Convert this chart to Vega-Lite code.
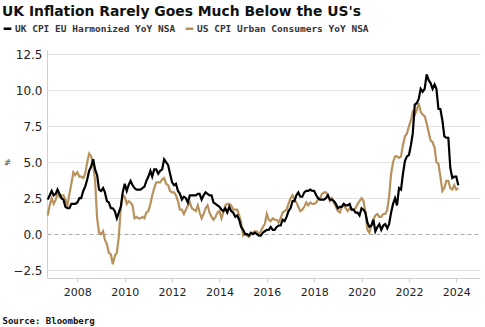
{
  "$schema": "https://vega.github.io/schema/vega-lite/v6.json",
  "width": 433,
  "height": 228,
  "autosize": {"type": "none"},
  "padding": {"left": 47, "top": 50, "right": 5, "bottom": 49},
  "background": "white",
  "title": {
    "text": "UK Inflation Rarely Goes Much Below the US's",
    "anchor": "start",
    "frame": "group",
    "dx": -45,
    "offset": 4,
    "font": "DejaVu Sans",
    "fontSize": 13.9,
    "fontWeight": "bold",
    "color": "#111111"
  },
  "config": {
    "view": {"stroke": null},
    "axis": {"domainColor": "#cfcfcf", "gridColor": "#e3e3e3", "tickColor": "#cfcfcf", "labelColor": "#222222", "labelFont": "DejaVu Sans"}
  },
  "data": {"values": [
      {"d":"2006-10","uk":2.4,"us":1.3},{"d":"2006-11","uk":2.7,"us":2.0},{"d":"2006-12","uk":3.0,"us":2.5},
      {"d":"2007-01","uk":2.7,"us":2.1},{"d":"2007-02","uk":2.8,"us":2.4},{"d":"2007-03","uk":3.1,"us":2.8},{"d":"2007-04","uk":2.8,"us":2.6},{"d":"2007-05","uk":2.5,"us":2.7},{"d":"2007-06","uk":2.4,"us":2.7},{"d":"2007-07","uk":1.9,"us":2.4},{"d":"2007-08","uk":1.8,"us":2.0},{"d":"2007-09","uk":1.8,"us":2.8},{"d":"2007-10","uk":2.1,"us":3.5},{"d":"2007-11","uk":2.1,"us":4.3},{"d":"2007-12","uk":2.1,"us":4.1},
      {"d":"2008-01","uk":2.2,"us":4.3},{"d":"2008-02","uk":2.5,"us":4.0},{"d":"2008-03","uk":2.5,"us":4.0},{"d":"2008-04","uk":3.0,"us":3.9},{"d":"2008-05","uk":3.3,"us":4.2},{"d":"2008-06","uk":3.8,"us":5.0},{"d":"2008-07","uk":4.4,"us":5.6},{"d":"2008-08","uk":4.7,"us":5.4},{"d":"2008-09","uk":5.2,"us":4.9},{"d":"2008-10","uk":4.5,"us":3.7},{"d":"2008-11","uk":4.1,"us":1.1},{"d":"2008-12","uk":3.1,"us":0.1},
      {"d":"2009-01","uk":3.0,"us":0.0},{"d":"2009-02","uk":3.2,"us":0.2},{"d":"2009-03","uk":2.9,"us":-0.4},{"d":"2009-04","uk":2.3,"us":-0.7},{"d":"2009-05","uk":2.2,"us":-1.3},{"d":"2009-06","uk":1.8,"us":-1.4},{"d":"2009-07","uk":1.8,"us":-2.1},{"d":"2009-08","uk":1.6,"us":-1.5},{"d":"2009-09","uk":1.1,"us":-1.3},{"d":"2009-10","uk":1.5,"us":-0.2},{"d":"2009-11","uk":1.9,"us":1.8},{"d":"2009-12","uk":2.9,"us":2.7},
      {"d":"2010-01","uk":3.5,"us":2.6},{"d":"2010-02","uk":3.0,"us":2.1},{"d":"2010-03","uk":3.4,"us":2.3},{"d":"2010-04","uk":3.7,"us":2.2},{"d":"2010-05","uk":3.4,"us":2.0},{"d":"2010-06","uk":3.2,"us":1.1},{"d":"2010-07","uk":3.1,"us":1.2},{"d":"2010-08","uk":3.1,"us":1.1},{"d":"2010-09","uk":3.1,"us":1.1},{"d":"2010-10","uk":3.2,"us":1.2},{"d":"2010-11","uk":3.3,"us":1.1},{"d":"2010-12","uk":3.7,"us":1.5},
      {"d":"2011-01","uk":4.0,"us":1.6},{"d":"2011-02","uk":4.4,"us":2.1},{"d":"2011-03","uk":4.0,"us":2.7},{"d":"2011-04","uk":4.5,"us":3.2},{"d":"2011-05","uk":4.5,"us":3.6},{"d":"2011-06","uk":4.2,"us":3.6},{"d":"2011-07","uk":4.4,"us":3.6},{"d":"2011-08","uk":4.5,"us":3.8},{"d":"2011-09","uk":5.2,"us":3.9},{"d":"2011-10","uk":5.0,"us":3.5},{"d":"2011-11","uk":4.8,"us":3.4},{"d":"2011-12","uk":4.2,"us":3.0},
      {"d":"2012-01","uk":3.6,"us":2.9},{"d":"2012-02","uk":3.4,"us":2.9},{"d":"2012-03","uk":3.5,"us":2.7},{"d":"2012-04","uk":3.0,"us":2.3},{"d":"2012-05","uk":2.8,"us":1.7},{"d":"2012-06","uk":2.4,"us":1.7},{"d":"2012-07","uk":2.6,"us":1.4},{"d":"2012-08","uk":2.5,"us":1.7},{"d":"2012-09","uk":2.2,"us":2.0},{"d":"2012-10","uk":2.7,"us":2.2},{"d":"2012-11","uk":2.7,"us":1.8},{"d":"2012-12","uk":2.7,"us":1.7},
      {"d":"2013-01","uk":2.7,"us":1.6},{"d":"2013-02","uk":2.8,"us":2.0},{"d":"2013-03","uk":2.8,"us":1.5},{"d":"2013-04","uk":2.4,"us":1.1},{"d":"2013-05","uk":2.7,"us":1.4},{"d":"2013-06","uk":2.9,"us":1.8},{"d":"2013-07","uk":2.8,"us":2.0},{"d":"2013-08","uk":2.7,"us":1.5},{"d":"2013-09","uk":2.7,"us":1.2},{"d":"2013-10","uk":2.2,"us":1.0},{"d":"2013-11","uk":2.1,"us":1.2},{"d":"2013-12","uk":2.0,"us":1.5},
      {"d":"2014-01","uk":1.9,"us":1.6},{"d":"2014-02","uk":1.7,"us":1.1},{"d":"2014-03","uk":1.6,"us":1.5},{"d":"2014-04","uk":1.8,"us":2.0},{"d":"2014-05","uk":1.5,"us":2.1},{"d":"2014-06","uk":1.9,"us":2.1},{"d":"2014-07","uk":1.6,"us":2.0},{"d":"2014-08","uk":1.5,"us":1.7},{"d":"2014-09","uk":1.2,"us":1.7},{"d":"2014-10","uk":1.3,"us":1.7},{"d":"2014-11","uk":1.0,"us":1.3},{"d":"2014-12","uk":0.5,"us":0.8},
      {"d":"2015-01","uk":0.3,"us":-0.1},{"d":"2015-02","uk":0.0,"us":0.0},{"d":"2015-03","uk":0.0,"us":-0.1},{"d":"2015-04","uk":-0.1,"us":-0.2},{"d":"2015-05","uk":0.1,"us":0.0},{"d":"2015-06","uk":0.0,"us":0.1},{"d":"2015-07","uk":0.1,"us":0.2},{"d":"2015-08","uk":0.0,"us":0.2},{"d":"2015-09","uk":-0.1,"us":0.0},{"d":"2015-10","uk":-0.1,"us":0.2},{"d":"2015-11","uk":0.1,"us":0.5},{"d":"2015-12","uk":0.2,"us":0.7},
      {"d":"2016-01","uk":0.3,"us":1.4},{"d":"2016-02","uk":0.3,"us":1.0},{"d":"2016-03","uk":0.5,"us":0.9},{"d":"2016-04","uk":0.3,"us":1.1},{"d":"2016-05","uk":0.3,"us":1.0},{"d":"2016-06","uk":0.5,"us":1.0},{"d":"2016-07","uk":0.6,"us":0.8},{"d":"2016-08","uk":0.6,"us":1.1},{"d":"2016-09","uk":1.0,"us":1.5},{"d":"2016-10","uk":0.9,"us":1.6},{"d":"2016-11","uk":1.2,"us":1.7},{"d":"2016-12","uk":1.6,"us":2.1},
      {"d":"2017-01","uk":1.8,"us":2.5},{"d":"2017-02","uk":2.3,"us":2.7},{"d":"2017-03","uk":2.3,"us":2.4},{"d":"2017-04","uk":2.7,"us":2.2},{"d":"2017-05","uk":2.9,"us":1.9},{"d":"2017-06","uk":2.6,"us":1.6},{"d":"2017-07","uk":2.6,"us":1.7},{"d":"2017-08","uk":2.9,"us":1.9},{"d":"2017-09","uk":3.0,"us":2.2},{"d":"2017-10","uk":3.0,"us":2.0},{"d":"2017-11","uk":3.1,"us":2.2},{"d":"2017-12","uk":3.0,"us":2.1},
      {"d":"2018-01","uk":3.0,"us":2.1},{"d":"2018-02","uk":2.7,"us":2.2},{"d":"2018-03","uk":2.5,"us":2.4},{"d":"2018-04","uk":2.4,"us":2.5},{"d":"2018-05","uk":2.4,"us":2.8},{"d":"2018-06","uk":2.4,"us":2.9},{"d":"2018-07","uk":2.5,"us":2.9},{"d":"2018-08","uk":2.7,"us":2.7},{"d":"2018-09","uk":2.4,"us":2.3},{"d":"2018-10","uk":2.4,"us":2.5},{"d":"2018-11","uk":2.3,"us":2.2},{"d":"2018-12","uk":2.1,"us":1.9},
      {"d":"2019-01","uk":1.8,"us":1.6},{"d":"2019-02","uk":1.9,"us":1.5},{"d":"2019-03","uk":1.9,"us":1.9},{"d":"2019-04","uk":2.1,"us":2.0},{"d":"2019-05","uk":2.0,"us":1.8},{"d":"2019-06","uk":2.0,"us":1.6},{"d":"2019-07","uk":2.1,"us":1.8},{"d":"2019-08","uk":1.7,"us":1.7},{"d":"2019-09","uk":1.7,"us":1.7},{"d":"2019-10","uk":1.5,"us":1.8},{"d":"2019-11","uk":1.5,"us":2.1},{"d":"2019-12","uk":1.3,"us":2.3},
      {"d":"2020-01","uk":1.8,"us":2.5},{"d":"2020-02","uk":1.7,"us":2.3},{"d":"2020-03","uk":1.5,"us":1.5},{"d":"2020-04","uk":0.8,"us":0.3},{"d":"2020-05","uk":0.5,"us":0.1},{"d":"2020-06","uk":0.6,"us":0.6},{"d":"2020-07","uk":1.0,"us":1.0},{"d":"2020-08","uk":0.2,"us":1.3},{"d":"2020-09","uk":0.5,"us":1.4},{"d":"2020-10","uk":0.7,"us":1.2},{"d":"2020-11","uk":0.3,"us":1.2},{"d":"2020-12","uk":0.6,"us":1.4},
      {"d":"2021-01","uk":0.7,"us":1.4},{"d":"2021-02","uk":0.4,"us":1.7},{"d":"2021-03","uk":0.7,"us":2.6},{"d":"2021-04","uk":1.5,"us":4.2},{"d":"2021-05","uk":2.1,"us":5.0},{"d":"2021-06","uk":2.5,"us":5.4},{"d":"2021-07","uk":2.0,"us":5.4},{"d":"2021-08","uk":3.2,"us":5.3},{"d":"2021-09","uk":3.1,"us":5.4},{"d":"2021-10","uk":4.2,"us":6.2},{"d":"2021-11","uk":5.1,"us":6.8},{"d":"2021-12","uk":5.4,"us":7.0},
      {"d":"2022-01","uk":5.5,"us":7.5},{"d":"2022-02","uk":6.2,"us":7.9},{"d":"2022-03","uk":7.0,"us":8.5},{"d":"2022-04","uk":9.0,"us":8.3},{"d":"2022-05","uk":9.1,"us":8.6},{"d":"2022-06","uk":9.4,"us":9.1},{"d":"2022-07","uk":10.1,"us":8.5},{"d":"2022-08","uk":9.9,"us":8.3},{"d":"2022-09","uk":10.1,"us":8.2},{"d":"2022-10","uk":11.1,"us":7.7},{"d":"2022-11","uk":10.7,"us":7.1},{"d":"2022-12","uk":10.5,"us":6.5},
      {"d":"2023-01","uk":10.1,"us":6.4},{"d":"2023-02","uk":10.4,"us":6.0},{"d":"2023-03","uk":10.1,"us":5.0},{"d":"2023-04","uk":8.7,"us":4.9},{"d":"2023-05","uk":8.7,"us":4.0},{"d":"2023-06","uk":7.9,"us":3.0},{"d":"2023-07","uk":6.8,"us":3.2},{"d":"2023-08","uk":6.7,"us":3.7},{"d":"2023-09","uk":6.7,"us":3.7},{"d":"2023-10","uk":4.6,"us":3.2},{"d":"2023-11","uk":3.9,"us":3.1},{"d":"2023-12","uk":4.0,"us":3.4},
      {"d":"2024-01","uk":4.0,"us":3.1},{"d":"2024-02","uk":3.4,"us":3.2}
  ]},
  "transform": [{"fold": ["us", "uk"], "as": ["series", "value"]}],
  "mark": {"type": "line", "strokeWidth": 2.2, "interpolate": "linear"},
  "encoding": {
    "x": {
      "field": "d", "type": "temporal",
      "scale": {"domain": ["2006-09-20", "2025-01-01"], "nice": false},
      "axis": {
        "values": ["2008-01-01","2010-01-01","2012-01-01","2014-01-01","2016-01-01","2018-01-01","2020-01-01","2022-01-01","2024-01-01"],
        "format": "%Y", "grid": false, "labelFontSize": 11, "tickSize": 4, "labelPadding": 4,
        "title": "Source: Bloomberg", "titleAnchor": "start", "titleAlign": "left", "titleX": -45, "titleY": 38,
        "titleFont": "DejaVu Sans Mono", "titleFontSize": 9, "titleFontWeight": "bold", "titleColor": "#111111"
      }
    },
    "y": {
      "field": "value", "type": "quantitative",
      "scale": {"domain": [-3.05, 12.8], "nice": false, "zero": false},
      "axis": {
        "values": [-2.5, 0, 2.5, 5, 7.5, 10, 12.5], "format": ".1f", "labelOverlap": false,
        "labelFontSize": 12, "ticks": false, "labelPadding": 5,
        "gridDash": {"condition": {"test": "datum.value == 0", "value": [4, 3]}, "value": []},
        "gridColor": {"condition": {"test": "datum.value == 0", "value": "#a8a8a8"}, "value": "#e3e3e3"},
        "title": "%", "titleFontSize": 7, "titleFontWeight": "bold", "titleColor": "#333333",
        "titleX": -40, "titleY": 112, "titleAlign": "center", "titleBaseline": "middle"
      }
    },
    "color": {
      "field": "series", "type": "nominal",
      "scale": {"domain": ["uk", "us"], "range": ["#000000", "#b8925c"]},
      "legend": {
        "orient": "none", "legendX": -45, "legendY": -27, "direction": "horizontal", "title": null,
        "labelExpr": "datum.label == 'uk' ? 'UK CPI EU Harmonized YoY NSA' : 'US CPI Urban Consumers YoY NSA'",
        "labelFont": "DejaVu Sans Mono", "labelFontSize": 9.5, "labelFontWeight": "bold", "labelColor": "#333333", "labelLimit": 0,
        "symbolType": "stroke", "symbolSize": 60, "symbolStrokeWidth": 2.5, "columnPadding": 4, "labelOffset": 2
      }
    }
  }
}
